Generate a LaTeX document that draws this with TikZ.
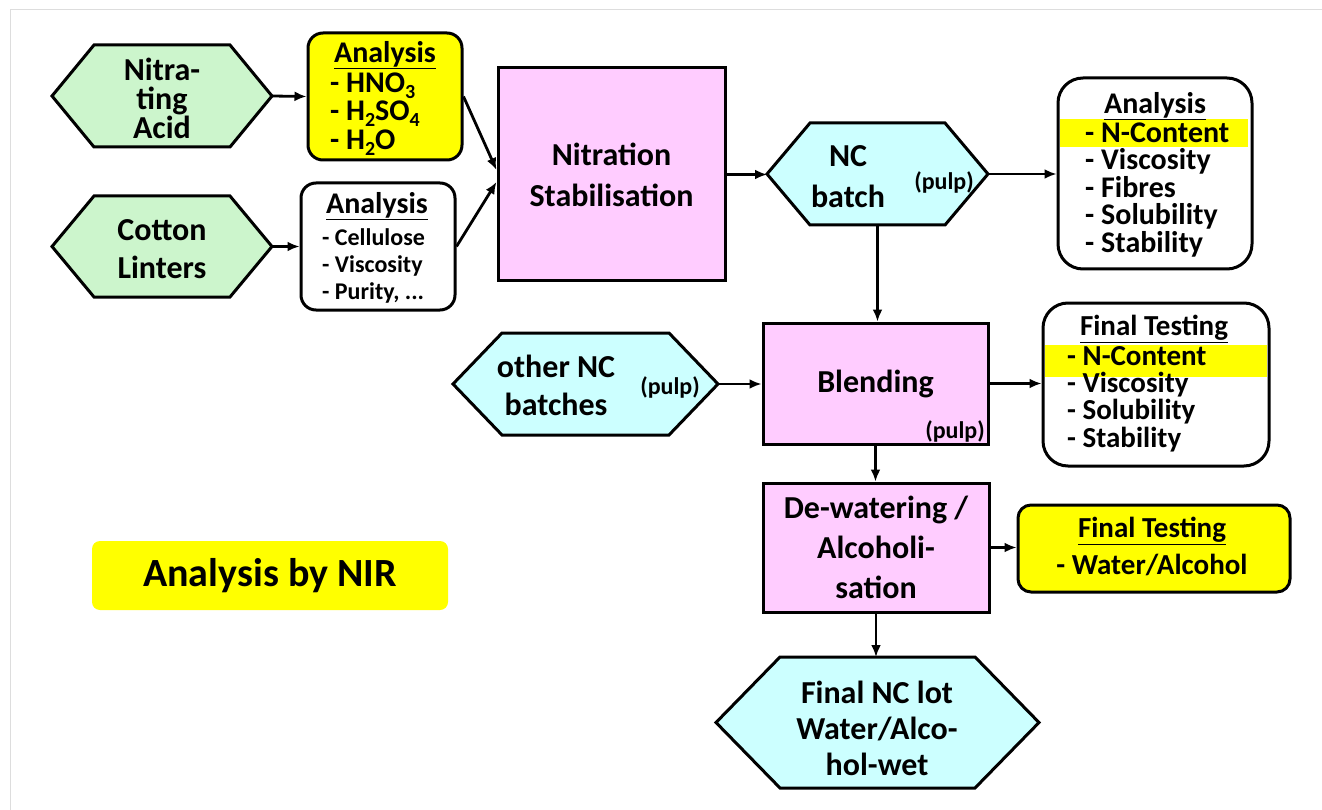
\documentclass[tikz,border=0pt]{standalone}
\usepackage{fontspec}
\setmainfont{Carlito}
\usetikzlibrary{arrows.meta}
\definecolor{hgreen}{HTML}{CCF5CC}
\definecolor{hcyan}{HTML}{CCFFFF}
\definecolor{hpink}{HTML}{FFCCFF}
\definecolor{hyel}{HTML}{FFFF00}
\definecolor{framegray}{HTML}{DDDDDD}
\newcommand\fsz[2]{\fontsize{#1}{#2}\selectfont\bfseries}
\newcommand\sbs[1]{\raisebox{-0.2em}{\fontsize{20}{20}\selectfont #1}}
\newcommand\hexshape[6]{%
  \node[geom, minimum width=#3, minimum height=#4] (#1) at (#2) {};
  \draw[hexline, fill=#6] (#1.west) -- ([xshift=#5]#1.north west) -- ([xshift=-#5]#1.north east)
    -- (#1.east) -- ([xshift=-#5]#1.south east) -- ([xshift=#5]#1.south west) -- cycle;
}
\begin{document}
\begin{tikzpicture}[x=1pt,y=-1pt,
  geom/.style={inner sep=0pt, outer sep=0pt},
  hexline/.style={line width=3pt, line join=miter, draw=black},
  arr/.style={line width=2.8pt, -{Latex[length=12pt,width=10pt]}},
  procbox/.style={draw, line width=3pt, fill=hpink, inner sep=0pt, align=center},
  roundbox/.style={draw, line width=3pt, rounded corners=#1, inner sep=0pt},
  lbl/.style={inner sep=0pt, align=center},
  lst/.style={inner sep=0pt, align=left, anchor=west},
  pulp/.style={inner sep=0pt, font=\fsz{24}{24}}
]
\useasboundingbox (0,0) rectangle (1322,810);
\draw[framegray, line width=1pt] (10,810) -- (10,10) -- (1322,10);

% hexagons
\hexshape{na}{162,96}{220pt}{102pt}{42pt}{hgreen}
\hexshape{cl}{162,246.5}{220pt}{101pt}{42pt}{hgreen}
\hexshape{ncb}{877.5,174}{221pt}{102pt}{43pt}{hcyan}
\hexshape{oth}{585.5,384}{265pt}{102pt}{49pt}{hcyan}
\hexshape{fin}{877.5,722.5}{323pt}{131pt}{64pt}{hcyan}

\node[lbl, font=\fsz{32}{29}] (nat) at (162,98) {Nitra-\\ting\\Acid};
\node[lbl, font=\fsz{32}{38}] (clt) at (162,249) {Cotton\\Linters};
\node[lbl, font=\fsz{32}{41}] (ncbt) at (848,177) {NC\\batch};
\node[pulp] (ncbp) at (944,182) {(pulp)};
\node[lbl, font=\fsz{32}{38}] (otht) at (556,385) {other NC\\batches};
\node[pulp] (othp) at (670,387) {(pulp)};
\node[lbl, font=\fsz{32}{36}] (fint) at (877,728) {Final NC lot\\Water/Alco-\\hol-wet};

% analysis boxes
\node[roundbox=15pt, fill=hyel, minimum width=154pt, minimum height=127pt] (an1) at (385,96.5) {};
\node[lbl, font=\fsz{30}{30}] (an1t) at (385,55) {\underline{Analysis}};
\node[lst, font=\fsz{30}{28.5}] (an1l) at (330,114) {- HNO\sbs{3}\\- H\sbs{2}SO\sbs{4}\\- H\sbs{2}O};

\node[roundbox=15pt, fill=white, minimum width=154pt, minimum height=127pt] (an2) at (378,246.5) {};
\node[lbl, font=\fsz{30}{30}] (an2t) at (377,206) {\underline{Analysis}};
\node[lst, font=\fsz{24}{27}] (an2l) at (322,266) {- Cellulose\\- Viscosity\\- Purity, ...};

% process boxes
\node[procbox, minimum width=227pt, minimum height=213pt, font=\fsz{32}{41}] (nit) at (611.5,174.5) {Nitration\\Stabilisation};
\node[procbox, minimum width=225pt, minimum height=121pt, font=\fsz{32}{38}] (bl) at (875.5,383.5) {Blending};
\node[pulp, anchor=east] (blp) at (985,431) {(pulp)};
\node[procbox, minimum width=226pt, minimum height=129pt, font=\fsz{32}{40}] (dw) at (876,547.5) {De-watering /\\Alcoholi-\\sation};

% right analysis
\node[roundbox=25pt, fill=white, minimum width=194pt, minimum height=191pt] (an3) at (1155,173.5) {};
\fill[hyel] (1060,119) rectangle (1248,147);
\node[lbl, font=\fsz{30}{30}] (an3t) at (1155,106) {\underline{Analysis}};
\node[lst, font=\fsz{30}{27.5}] (an3l) at (1085,190) {- N-Content\\- Viscosity\\- Fibres\\- Solubility\\- Stability};

\node[roundbox=25pt, fill=white, minimum width=226pt, minimum height=163pt] (ft1) at (1156,384.5) {};
\fill[hyel] (1045,345) rectangle (1267,377);
\node[lbl, font=\fsz{29}{29}] (ft1t) at (1154,329) {\underline{Final Testing}};
\node[lst, font=\fsz{29}{27.3}] (ft1l) at (1067,399) {- N-Content\\- Viscosity\\- Solubility\\- Stability};

\node[roundbox=13pt, fill=hyel, minimum width=272pt, minimum height=87pt] (ft2) at (1154,548.5) {};
\node[lbl, font=\fsz{29}{29}] (ft2t) at (1152,531) {\underline{Final Testing}};
\node[lbl, font=\fsz{29}{29}] (ft2l) at (1152,565) {- Water/Alcohol};

\node[rounded corners=8pt, fill=hyel, minimum width=356pt, minimum height=69pt, inner sep=0pt, font=\fsz{40}{40}] (nir) at (270,575.5) {Analysis by NIR};

% connectors
\draw[arr] (na.east) -- (an1.west);
\draw[arr] (cl.east) -- (an2.west);
\draw[arr] (an1.east) -- ([yshift=4.5pt]nit.west);
\draw[arr] (an2.east) -- ([yshift=-7.5pt]nit.west);
\draw[arr] (nit.east) -- (nit.east -| ncb.west);
\draw[arr] (ncb.east) -- (ncb.east -| an3.west);
\draw[arr] (ncb.south) -- (ncb.south |- bl.north);
\draw[arr] (oth.east) -- (oth.east -| bl.west);
\draw[arr] (bl.east) -- (bl.east -| ft1.west);
\draw[arr] (bl.south) -- (bl.south |- dw.north);
\draw[arr] (dw.east) -- (dw.east -| ft2.west);
\draw[arr] (dw.south) -- (dw.south |- fin.north);
\end{tikzpicture}
\end{document}
